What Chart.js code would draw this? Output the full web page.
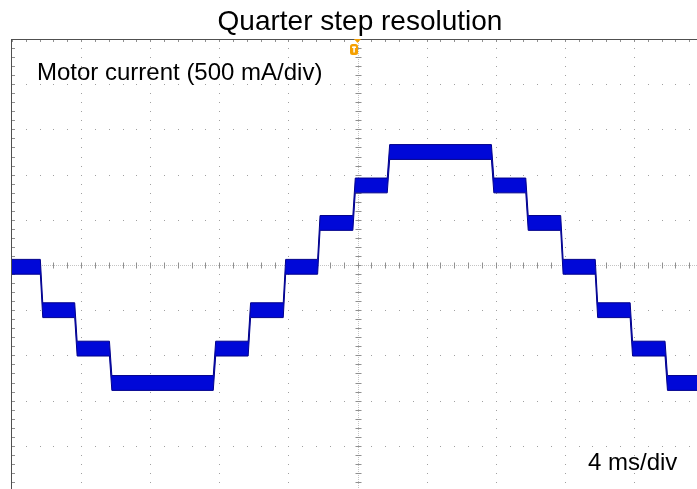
<!DOCTYPE html>
<html>
<head>
<meta charset="utf-8">
<script src="https://cdn.jsdelivr.net/npm/chart.js@4.4.1/dist/chart.umd.min.js"></script>
<style>
  html, body { margin: 0; padding: 0; background: #fff; }
  #wrap { width: 697px; height: 489px; }
</style>
</head>
<body>
<div id="wrap"><canvas id="scope"></canvas></div>
<script>
// Step edges (ms) and the current level of each step (mA)
let stepEdges = [1.71, 3.70, 5.71, 11.72, 13.74, 15.77, 17.76, 19.80, 21.79, 27.82, 29.81, 31.83, 33.83, 35.85, 37.87];
let stepLevels = [-20, -500, -925, -1305, -925, -500, -20, 465, 880, 1250, 880, 465, -20, -500, -925, -1305];
let bandHalf = 82; // half thickness of the noise band (mA)

// Scope graticule: 4 ms/div, 500 mA/div
let timeDivs = [0, 4, 8, 12, 16, 20, 24, 28, 32, 36, 40];
let currentDivs = [-2500, -2000, -1500, -1000, -500, 0, 500, 1000, 1500, 2000, 2500];

let FONT = "'Liberation Sans', Arial, sans-serif";

// build one edge of the band as a stepped trace with short ramps
function bandEdge(offset) {
  let pts = [];
  let ramp = 0.07;
  let start = -1;
  for (let i = 0; i < stepLevels.length; i++) {
    let end = i < stepEdges.length ? stepEdges[i] - ramp : 41;
    pts.push({ x: start, y: stepLevels[i] + offset });
    pts.push({ x: end, y: stepLevels[i] + offset });
    start = i < stepEdges.length ? stepEdges[i] + ramp : 41;
  }
  return pts;
}

// Graticule, borders, trigger mark, labels
const scopeGrid = {
  id: "scopeGrid",
  beforeDatasetsDraw(chart) {
    const { ctx, chartArea: a, scales: { x, y } } = chart;
    ctx.save();
    let tStep = 0.8, iStep = 100;

    // dotted major lines
    ctx.fillStyle = "#a0a0a0";
    for (let t of timeDivs) {
      if (t === 20) continue;
      let px = Math.round(x.getPixelForValue(t));
      for (let v = -2500; v <= 2500; v += iStep) {
        let py = Math.round(y.getPixelForValue(v));
        ctx.fillRect(px, py, 1, 1);
      }
    }
    for (let v of currentDivs) {
      if (v === 0) continue;
      let py = Math.round(y.getPixelForValue(v));
      for (let t = 0; t <= 40.01; t += tStep) {
        let px = Math.round(x.getPixelForValue(t));
        ctx.fillRect(px, py, 1, 1);
      }
    }

    // centre axes with tick marks
    let cx = Math.round(x.getPixelForValue(20)) + 0.5;
    let cy = Math.round(y.getPixelForValue(0)) + 0.5;
    ctx.strokeStyle = "#c4c4c4";
    ctx.lineWidth = 1;
    ctx.setLineDash([1, 1]);
    ctx.beginPath();
    ctx.moveTo(a.left, cy); ctx.lineTo(a.right, cy);
    ctx.moveTo(cx, a.top); ctx.lineTo(cx, a.bottom);
    ctx.stroke();
    ctx.setLineDash([]);
    ctx.strokeStyle = "#909090";
    ctx.beginPath();
    for (let t = 0; t <= 40.01; t += tStep) {
      let px = Math.round(x.getPixelForValue(t)) + 0.5;
      ctx.moveTo(px, cy - 3); ctx.lineTo(px, cy + 3);
      ctx.moveTo(px, a.top); ctx.lineTo(px, a.top + 3);
    }
    for (let v = -2500; v <= 2500; v += iStep) {
      let py = Math.round(y.getPixelForValue(v)) + 0.5;
      ctx.moveTo(cx - 3, py); ctx.lineTo(cx + 3, py);
      ctx.moveTo(a.left, py); ctx.lineTo(a.left + 3, py);
    }
    ctx.stroke();

    // top and left frame
    ctx.strokeStyle = "#505050";
    ctx.beginPath();
    ctx.moveTo(a.left - 0.5, a.top + 0.5); ctx.lineTo(a.right, a.top + 0.5);
    ctx.moveTo(a.left - 0.5, a.top); ctx.lineTo(a.left - 0.5, a.bottom);
    ctx.stroke();
    ctx.restore();
  },
  afterDraw(chart) {
    const { ctx, chartArea: a, scales: { x } } = chart;
    ctx.save();
    // trigger marker
    let tx = x.getPixelForValue(20);
    ctx.fillStyle = "#f5a000";
    ctx.beginPath();
    ctx.moveTo(tx - 3.5, a.top); ctx.lineTo(tx + 3.5, a.top); ctx.lineTo(tx, a.top + 4);
    ctx.closePath();
    ctx.fill();
    ctx.beginPath();
    ctx.roundRect(tx - 7.5, a.top + 5, 8, 11, 2.5);
    ctx.fill();
    ctx.fillStyle = "#fff";
    ctx.fillRect(tx - 5.5, a.top + 7.5, 4, 1.5);
    ctx.fillRect(tx - 4.2, a.top + 7.5, 1.5, 6);

    // title (centred on the full screen width, which runs past the photo)
    ctx.fillStyle = "#000";
    ctx.font = "28px " + FONT;
    ctx.textAlign = "center";
    ctx.textBaseline = "middle";
    ctx.fillText("Quarter step resolution", 360, 22);

    // annotations
    ctx.font = "24px " + FONT;
    ctx.textAlign = "left";
    ctx.textBaseline = "alphabetic";
    ctx.fillText("Motor current (500 mA/div)", 37, 80);
    ctx.fillText("4 ms/div", 588, 470);
    ctx.restore();
  }
};

let ctx = document.getElementById("scope").getContext("2d");
let scopeChart = new Chart(ctx, {
  type: "line",
  data: {
    datasets: [
      {
        label: "upper",
        data: bandEdge(bandHalf),
        borderColor: "#00008c",
        borderWidth: 1,
        pointRadius: 0,
        fill: false
      },
      {
        label: "lower",
        data: bandEdge(-bandHalf),
        borderColor: "#00008c",
        borderWidth: 1,
        pointRadius: 0,
        backgroundColor: "#0008d8",
        fill: "-1"
      }
    ]
  },
  options: {
    responsive: true,
    maintainAspectRatio: false,
    animation: false,
    layout: { padding: { left: 12, right: 0, top: 39, bottom: 0 } },
    plugins: {
      legend: { display: false },
      tooltip: { enabled: false },
      title: { display: false }
    },
    scales: {
      // the screen runs a little past the right and bottom edge of the photo
      x: { type: "linear", min: 0, max: 39.65, display: false },
      y: { min: -2478, max: 2500, display: false }
    }
  },
  plugins: [scopeGrid]
});
</script>
</body>
</html>
